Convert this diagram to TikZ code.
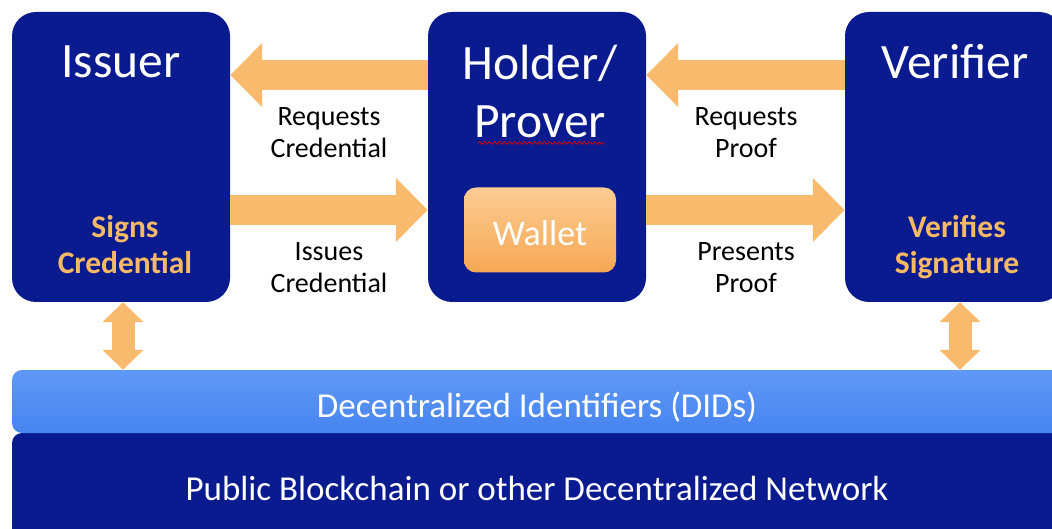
\documentclass[tikz,border=0pt]{standalone}
\usepackage{fontspec}
\setmainfont{Carlito}
\usetikzlibrary{arrows.meta,positioning,decorations.pathmorphing}

\definecolor{didnavy}{RGB}{10,26,143}
\definecolor{didsky}{RGB}{70,132,240}
\definecolor{didskyhi}{RGB}{96,152,246}
\definecolor{didorange}{RGB}{248,186,108}
\definecolor{walletlo}{RGB}{246,168,84}
\definecolor{wallethi}{RGB}{252,204,146}
\definecolor{didtext}{RGB}{246,186,102}

\tikzset{
  party/.style={fill=didnavy, rounded corners=24pt, minimum width=218pt,
    minimum height=290pt, inner sep=0pt},
  layer/.style={rounded corners=10pt, minimum width=1050pt, inner sep=0pt},
  title/.style={text=white, inner sep=0pt, align=center,
    font=\fontsize{49.5pt}{58pt}\selectfont},
  duty/.style={text=didtext, inner sep=0pt, align=center,
    font=\bfseries\fontsize{31.5pt}{36pt}\selectfont},
  msg/.style={text=black, inner sep=0pt, align=center,
    font=\fontsize{28pt}{32pt}\selectfont},
  blockarrow/.style={draw=didorange, line width=30pt,
    -{Triangle[length=32pt, width=62pt]}},
  updown/.style={draw=didorange, line width=23pt,
    {Triangle[length=20pt, width=40pt]}-{Triangle[length=20pt, width=40pt]}},
}

\begin{document}
\begin{tikzpicture}[x=1pt, y=-1pt]
\useasboundingbox (0,0) rectangle (1052,529);

\def\ybox{157}; % centre of the three boxes
\def\xiss{121};
\def\xhol{537};
\def\xver{954};
\def\xmidl{329}; % between issuer and holder
\def\xmidr{746}; % between holder and verifier

% bottom layers
\node[layer, fill=didnavy, minimum height=110pt] (net) at (537,488) {};
\node[layer, top color=didskyhi, bottom color=didsky, minimum height=63pt] (did) at (537,401.5) {};

% parties
\node[party] (issuer) at (\xiss, \ybox) {};
\node[party] (holder) at (\xhol, \ybox) {};
\node[party] (verifier) at (\xver, \ybox) {};

\node[rounded corners=12pt, minimum width=152pt, minimum height=85pt, inner sep=0pt,
  top color=wallethi, bottom color=walletlo] (wallet) at (540,230) {};

% messages
\draw[blockarrow] ([yshift=82pt]holder.west) -- ([yshift=82pt]issuer.east);
\draw[blockarrow] ([yshift=-53pt]issuer.east) -- ([yshift=-53pt]holder.west);
\draw[blockarrow] ([yshift=82pt]verifier.west) -- ([yshift=82pt]holder.east);
\draw[blockarrow] ([yshift=-53pt]holder.east) -- ([yshift=-53pt]verifier.west);

% links to the DID layer
\draw[updown] ([xshift=2pt]issuer.south) -- ([xshift=2pt]issuer.south |- did.north);
\draw[updown] ([xshift=6pt]verifier.south) -- ([xshift=6pt]verifier.south |- did.north);

% texts
\node[title] (issuerT) at (121,62) {Issuer};
\node[title] (holderT) at (540,91) {Holder/\\Prover};
\node[title] (verifierT) at (955,62) {Verifier};

\draw[red!85!black, line width=0.8pt, decorate,
  decoration={snake, amplitude=1.3pt, segment length=5pt}] (478,143) -- (605,143);

\node[duty] (signs) at (125,245) {Signs\\Credential};
\node[duty] (verifies) at (957,247) {Verifies\\Signature};

\node[text=white, inner sep=0pt, font=\fontsize{36pt}{40pt}\selectfont] (walletT) at (540,233) {Wallet};

\node[msg] (reqcred) at (\xmidl,133) {Requests\\Credential};
\node[msg] (isscred) at (\xmidl,268) {Issues\\Credential};
\node[msg] (reqproof) at (\xmidr,133) {Requests\\Proof};
\node[msg] (presproof) at (\xmidr,268) {Presents\\Proof};

\node[text=white, inner sep=0pt, font=\fontsize{35pt}{40pt}\selectfont] (didT) at (537,407) {Decentralized Identifiers (DIDs)};
\node[text=white, inner sep=0pt, font=\fontsize{35pt}{40pt}\selectfont] (netT) at (537,488) {Public Blockchain or other Decentralized Network};

\end{tikzpicture}
\end{document}
